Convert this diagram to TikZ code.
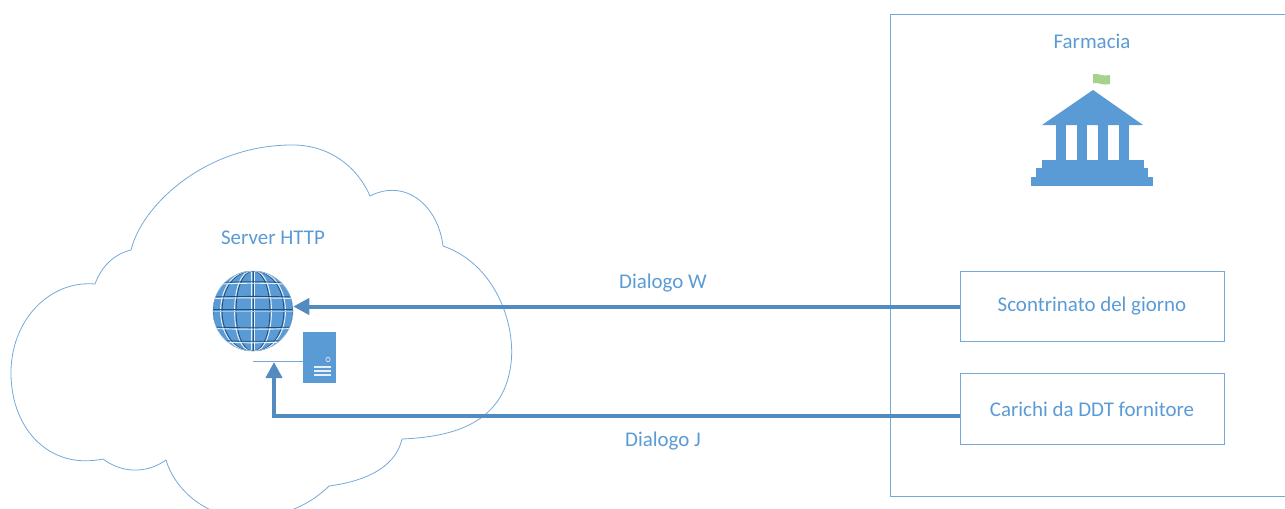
\documentclass[tikz,border=0pt]{standalone}
\usepackage{fontspec}
\setmainfont{Carlito}
\usetikzlibrary{positioning, arrows.meta}
\definecolor{azzurro}{HTML}{5B9BD5}
\definecolor{scuro}{HTML}{1F4E79}
\definecolor{verde}{HTML}{A9D18E}
\tikzset{
    testo/.style={text=azzurro, font=\fontsize{15.7}{18}\selectfont, inner sep=0pt},
    riquadro/.style={draw=azzurro!85, line width=0.7pt, minimum width=198pt, minimum height=53pt, inner sep=0pt, testo},
    freccia/.style={draw=azzurro!90!black, line width=3pt, -{Triangle[length=12pt, width=12pt]}},
    sottile/.style={draw=azzurro!85, line width=0.6pt}
}
\begin{document}
\begin{tikzpicture}[x=0.75pt, y=-0.75pt]
    \clip (0,0) rectangle (1285,508);
    \fill[white] (0,0) rectangle (1285,508);

    % nuvola
    \draw[sottile, line join=bevel] (131,250)
        .. controls (142,205) and (205,146) .. (290,145)
        .. controls (330,144) and (358,168) .. (370,196)
        .. controls (405,178) and (438,205) .. (443,246)
        .. controls (498,265) and (518,330) .. (510,370)
        .. controls (500,425) and (450,437) .. (402,439)
        .. controls (395,470) and (360,482) .. (329,486)
        .. controls (305,510) and (270,520) .. (240,518)
        .. controls (205,515) and (175,490) .. (166,460)
        .. controls (145,475) and (120,472) .. (103,459)
        .. controls (50,470) and (12,430) .. (11,375)
        .. controls (10,320) and (50,280) .. (95,284)
        .. controls (102,265) and (115,254) .. (131,250) -- cycle;

    \node[testo] (server) at (273,238) {Server HTTP};

    % globo
    \node[circle, fill=azzurro, minimum size=60pt, inner sep=0pt] (globo) at (253,311) {};
    \begin{scope}
        \clip (253,311) circle (30pt);
        \foreach \rx in {0,17,31,40} {
            \draw[scuro, line width=0.6pt] (253,271) .. controls (253-\rx*1.33,271) and (253-\rx*1.33,351) .. (253,351);
            \draw[scuro, line width=0.6pt] (253,271) .. controls (253+\rx*1.33,271) and (253+\rx*1.33,351) .. (253,351);
            \draw[white!85!azzurro, line width=0.7pt] (251.5,271) .. controls (251.5-\rx*1.33,271) and (251.5-\rx*1.33,351) .. (251.5,351);
            \draw[white!85!azzurro, line width=0.7pt] (254.5,271) .. controls (254.5+\rx*1.33,271) and (254.5+\rx*1.33,351) .. (254.5,351);
        }
        \foreach \yy in {-28,-14,16,29} {
            \draw[scuro, line width=0.6pt] (213,311+\yy) .. controls (240,311+\yy*1.06) and (266,311+\yy*1.06) .. (293,311+\yy);
            \draw[white!85!azzurro, line width=0.7pt] (213,312.5+\yy) .. controls (240,312.5+\yy*1.06) and (266,312.5+\yy*1.06) .. (293,312.5+\yy);
        }
        \draw[scuro, line width=0.6pt] (213,309.5) -- (293,309.5);
        \draw[azzurro!60!white, line width=0.7pt] (213,311) -- (293,311);
    \end{scope}
    \draw[azzurro!70!white, line width=0.4pt] (253,311) circle (30pt);

    % macchina server
    \node[fill=azzurro, minimum width=24.75pt, minimum height=38.25pt, inner sep=0pt] (macchina) at (319.5,357.5) {};
    \draw[white!80!azzurro, line width=0.5pt] (328,359.5) circle (1.6pt);
    \foreach \yy in {366.5,370.5,374.5} {
        \draw[white!85!azzurro, line width=1.5pt] (314,\yy) -- (331,\yy);
    }
    \coordinate (rete) at (253,361);
    \draw[sottile] (rete) -- (rete -| macchina.west);

    % farmacia
    \draw[sottile] (890,14) rectangle (1320,496);
    \node[testo] (farmacia) at (1092,41) {Farmacia};

    \fill[verde] (1093,74) .. controls (1098,73) and (1103,77) .. (1110,75) -- (1110,84) .. controls (1103,86) and (1098,82) .. (1093,83) -- cycle;
    \fill[azzurro] (1093,90) -- (1143,125) -- (1042,125) -- cycle;
    \fill[azzurro] (1056,125) rectangle (1066,160);
    \fill[azzurro] (1077,125) rectangle (1087,160);
    \fill[azzurro] (1098,125) rectangle (1108,160);
    \fill[azzurro] (1119,125) rectangle (1129,160);
    \fill[azzurro] (1042,160) rectangle (1144,168);
    \fill[azzurro] (1036,168) rectangle (1148,177);
    \fill[azzurro] (1031,177) rectangle (1153,186);

    \node[riquadro] (scontrinato) at (1092,306.5) {Scontrinato del giorno};
    \node[riquadro] (carichi) at (1092,409) {Carichi da DDT fornitore};

    % dialoghi
    \coordinate (gomito) at (274,416);
    \coordinate (uscita) at (960,416);
    \coordinate (punta) at (274,362);
    \draw[freccia] (scontrinato.west) -- (scontrinato.west -| globo.east);
    \draw[freccia] (uscita) -- (gomito) -- (punta);
    \node[testo] (dialogow) at (663,283) {Dialogo W};
    \node[testo] (dialogoj) at (663,441) {Dialogo J};
\end{tikzpicture}
\end{document}
